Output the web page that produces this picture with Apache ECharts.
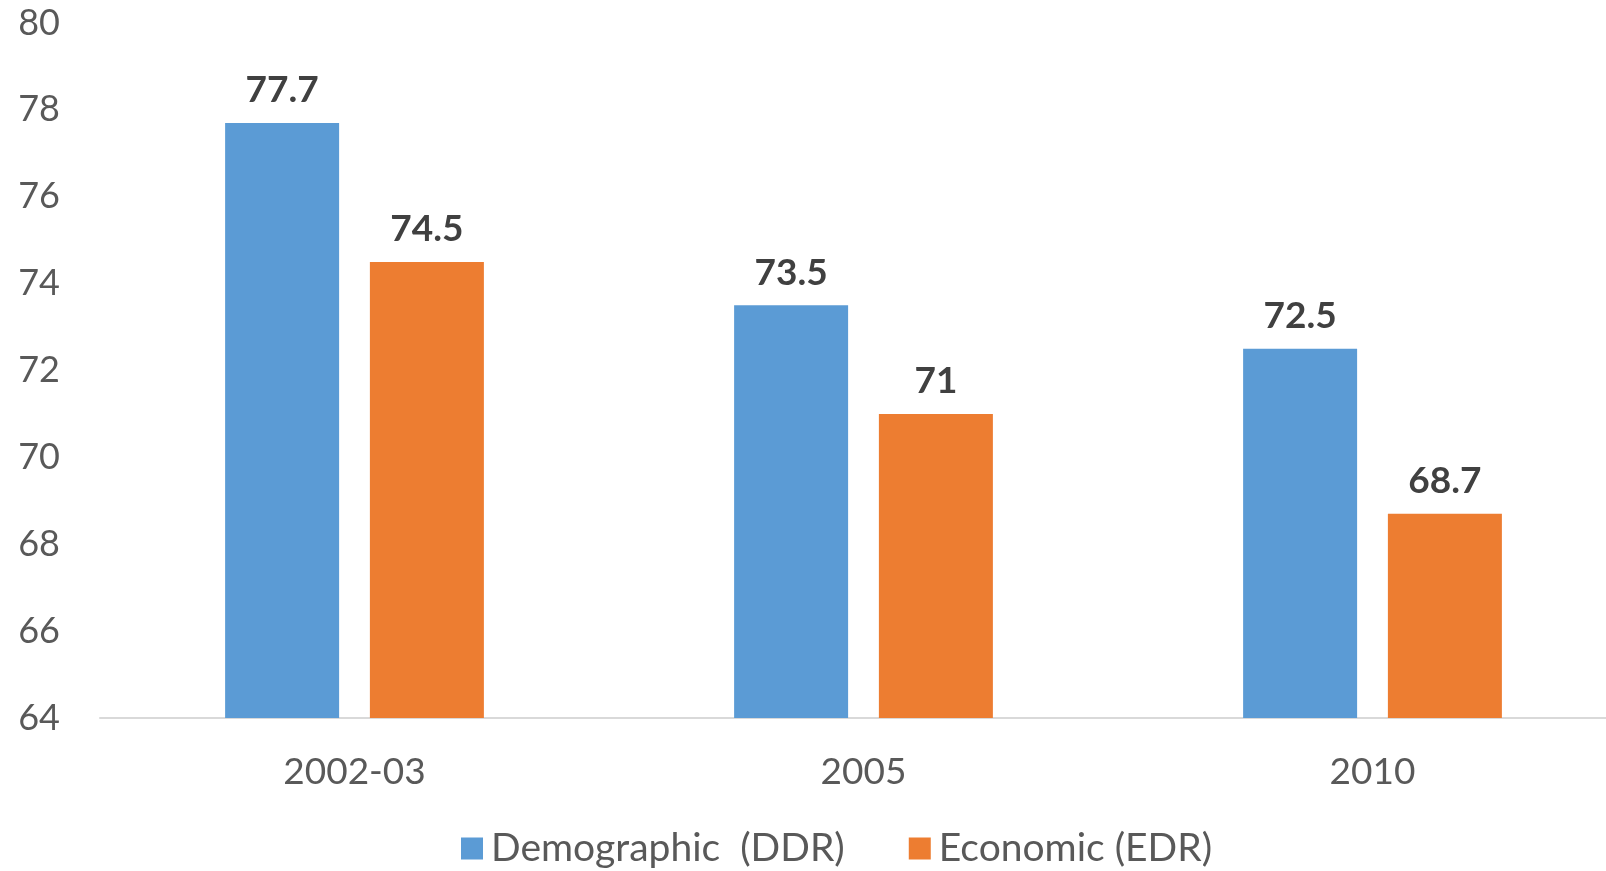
<!DOCTYPE html>
<html>
<head>
<meta charset="utf-8">
<script src="https://cdn.jsdelivr.net/npm/echarts@6/dist/echarts.min.js"></script>
<style>
html,body{margin:0;padding:0;background:#fff;}
#chart{width:1606px;height:871px;}
</style>
</head>
<body>
<div id="chart"></div>
<script>
var categories = ['2002-03', '2005', '2010'];
var ddrValues = [77.7, 73.5, 72.5];
var edrValues = [74.5, 71, 68.7];
var seriesNames = ['Demographic  (DDR)', 'Economic (EDR)'];

var chart = echarts.init(document.getElementById('chart'));
var font = 'Lato, "Open Sans", sans-serif';
var labelStyle = {
  show: true, position: 'top', distance: 14,
  fontFamily: font, fontSize: 37, fontWeight: 'bold', color: '#404040'
};
chart.setOption({
  animation: false,
  grid: { left: 100, right: -21, top: 23, bottom: 153, outerBoundsMode: 'none', containLabel: false },
  legend: {
    data: seriesNames,
    left: 456, top: 824,
    itemWidth: 22, itemHeight: 22, itemGap: 64,
    icon: 'rect',
    textStyle: { fontFamily: font, fontSize: 39, color: '#595959', padding: [0, 0, 0, 3] }
  },
  xAxis: {
    type: 'category', data: categories,
    axisLine: { lineStyle: { color: '#D9D9D9', width: 2 } },
    axisTick: { show: false },
    axisLabel: { margin: 36, fontFamily: font, fontSize: 37, color: '#595959' }
  },
  yAxis: {
    type: 'value', min: 64, max: 80, interval: 2,
    axisLine: { show: false }, axisTick: { show: false },
    splitLine: { show: false },
    axisLabel: { margin: 40, fontFamily: font, fontSize: 36, color: '#595959' }
  },
  series: [
    { name: seriesNames[0], type: 'bar', data: ddrValues, barWidth: 114, barGap: '27%',
      itemStyle: { color: '#5B9BD5' }, label: labelStyle },
    { name: seriesNames[1], type: 'bar', data: edrValues, barWidth: 114, barGap: '27%',
      itemStyle: { color: '#ED7D31' }, label: labelStyle }
  ]
});
</script>
</body>
</html>
